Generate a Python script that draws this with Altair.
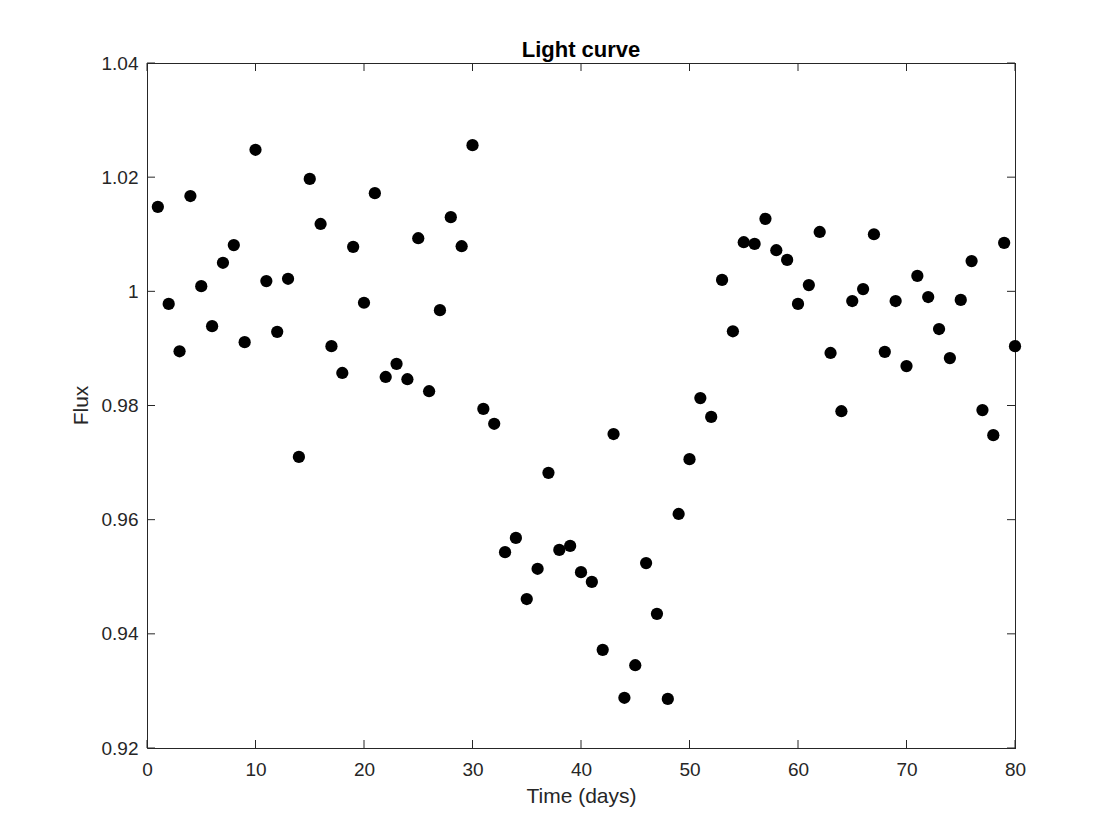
import altair as alt
import pandas as pd

days = list(range(1, 81))
flux = [
    1.0148, 0.9978, 0.9895, 1.0167, 1.0009, 0.9939, 1.0050, 1.0081, 0.9911, 1.0248,
    1.0018, 0.9929, 1.0022, 0.9710, 1.0197, 1.0118, 0.9904, 0.9857, 1.0078, 0.9980,
    1.0172, 0.9850, 0.9873, 0.9846, 1.0093, 0.9825, 0.9967, 1.0130, 1.0079, 1.0256,
    0.9794, 0.9768, 0.9543, 0.9568, 0.9461, 0.9514, 0.9682, 0.9547, 0.9554, 0.9508,
    0.9491, 0.9372, 0.9750, 0.9288, 0.9345, 0.9524, 0.9435, 0.9286, 0.9610, 0.9706,
    0.9813, 0.9780, 1.0020, 0.9930, 1.0086, 1.0083, 1.0127, 1.0072, 1.0055, 0.9978,
    1.0011, 1.0104, 0.9892, 0.9790, 0.9983, 1.0004, 1.0100, 0.9894, 0.9983, 0.9869,
    1.0027, 0.9990, 0.9934, 0.9883, 0.9985, 1.0053, 0.9792, 0.9748, 1.0085, 0.9904,
]
x_ticks = [0, 10, 20, 30, 40, 50, 60, 70, 80]
y_ticks = [0.92, 0.94, 0.96, 0.98, 1.00, 1.02, 1.04]
title_text = ["Light curve"]

W, H = 868, 685
FONT = "Liberation Sans"
AX = "#262626"

df = pd.DataFrame({"day": days, "flux": flux})
xt = pd.DataFrame({"t": x_ticks})
yt = pd.DataFrame({"t": y_ticks})
tt = pd.DataFrame({"title": title_text})

xscale = alt.Scale(domain=[0, 80], nice=False, zero=False)
yscale = alt.Scale(domain=[0.92, 1.04], nice=False, zero=False)

points = alt.Chart(df).mark_circle(size=150, color="black", opacity=1).encode(
    x=alt.X("day:Q", scale=xscale,
            axis=alt.Axis(values=x_ticks, title="Time (days)", tickSize=0,
                          labelPadding=12, labelFontSize=19, labelFont=FONT,
                          labelColor=AX, domainColor=AX, grid=False, labelFlush=False,
                          titleFont=FONT, titleFontSize=21, titleFontWeight="normal",
                          titleColor=AX, titleY=48, titleBaseline="middle")),
    y=alt.Y("flux:Q", scale=yscale,
            axis=alt.Axis(values=y_ticks, title="Flux", tickSize=0,
                          labelPadding=9, labelFontSize=19, labelFont=FONT,
                          labelColor=AX, domainColor=AX, grid=False, labelFlush=False,
                          labelExpr="datum.value == 1 ? '1' : format(datum.value, '.2f')",
                          titleFont=FONT, titleFontSize=21, titleFontWeight="normal",
                          titleColor=AX, titleX=-66, titleY=342, titleAngle=-90,
                          titleAlign="center", titleBaseline="middle")),
)

tk = 8
xb = alt.Chart(xt).mark_rule(color=AX, strokeWidth=1).encode(
    x=alt.X("t:Q", scale=xscale), y=alt.value(H), y2=alt.value(H - tk))
xtop = alt.Chart(xt).mark_rule(color=AX, strokeWidth=1).encode(
    x=alt.X("t:Q", scale=xscale), y=alt.value(0), y2=alt.value(tk))
yl = alt.Chart(yt).mark_rule(color=AX, strokeWidth=1).encode(
    y=alt.Y("t:Q", scale=yscale), x=alt.value(0), x2=alt.value(tk))
yr = alt.Chart(yt).mark_rule(color=AX, strokeWidth=1).encode(
    y=alt.Y("t:Q", scale=yscale), x=alt.value(W), x2=alt.value(W - tk))

top_line = alt.Chart(tt).mark_rule(color=AX, strokeWidth=1).encode(
    x=alt.value(0), x2=alt.value(W + 1), y=alt.value(0.5))
right_line = alt.Chart(tt).mark_rule(color=AX, strokeWidth=1).encode(
    x=alt.value(W + 0.5), y=alt.value(0), y2=alt.value(H + 1))

title = alt.Chart(tt).mark_text(font=FONT, fontSize=22, fontWeight="bold",
                                color="black", align="center",
                                baseline="alphabetic").encode(
    text="title:N", x=alt.value(W / 2), y=alt.value(-6))

chart = alt.layer(xb, xtop, yl, yr, top_line, right_line, points, title).properties(
    width=W, height=H,
    autosize=alt.AutoSizeParams(type="none"),
    padding={"left": 139, "top": 55, "right": 97, "bottom": 77},
).configure_view(stroke="transparent").configure(background="white")

chart.save("out.html", embed_options={"renderer": "svg", "actions": False})
